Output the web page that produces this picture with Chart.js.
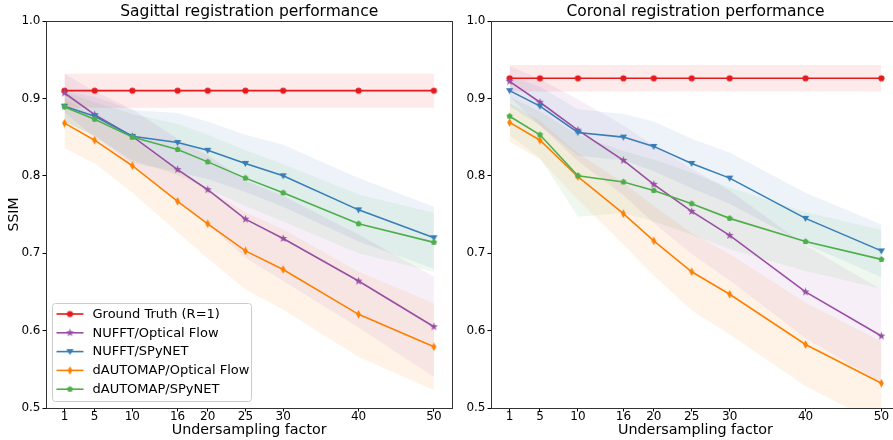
<!DOCTYPE html>
<html>
<head>
<meta charset="utf-8">
<script src="https://cdn.jsdelivr.net/npm/chart.js@4/dist/chart.umd.min.js"></script>
<style>
  html, body { margin: 0; padding: 0; background: #fff; overflow: hidden; }
  #wrap { position: relative; width: 893px; height: 440px; overflow: hidden; }
  #c1 { position: absolute; left: 0; top: 0; }
  #c2 { position: absolute; left: 458px; top: 0; }
</style>
</head>
<body>
<div id="wrap">
  <canvas id="c1" width="458" height="440"></canvas>
  <canvas id="c2" width="450" height="440"></canvas>
</div>
<script>
// undersampling factors (x axis) and the tick labels shown under it
const FACTORS = [1, 5, 10, 16, 20, 25, 30, 40, 50];
const X_TICKS = [1, 5, 10, 16, 20, 25, 30, 40, 50];
const Y_TICKS = [0.5, 0.6, 0.7, 0.8, 0.9, 1.0];

const SERIES_NAMES = ["Ground Truth (R=1)", "NUFFT/Optical Flow", "NUFFT/SPyNET",
                      "dAUTOMAP/Optical Flow", "dAUTOMAP/SPyNET"];

// sagittal — mean SSIM per factor, and the spread of the shaded band
const SAG_GT        = [0.910, 0.910, 0.910, 0.910, 0.910, 0.910, 0.910, 0.910, 0.910];
const SAG_NUFFT_OF  = [0.907, 0.879, 0.851, 0.808, 0.782, 0.744, 0.719, 0.664, 0.605];
const SAG_NUFFT_SPY = [0.890, 0.877, 0.851, 0.843, 0.833, 0.816, 0.800, 0.756, 0.720];
const SAG_DAUTO_OF  = [0.868, 0.846, 0.813, 0.767, 0.738, 0.703, 0.679, 0.621, 0.579];
const SAG_DAUTO_SPY = [0.889, 0.873, 0.850, 0.834, 0.818, 0.797, 0.778, 0.738, 0.714];

const SAG_GT_SD        = [0.022, 0.022, 0.022, 0.022, 0.022, 0.022, 0.022, 0.022, 0.022];
const SAG_NUFFT_OF_SD  = [0.025, 0.030, 0.035, 0.040, 0.045, 0.050, 0.055, 0.060, 0.065];
const SAG_NUFFT_SPY_SD = [0.020, 0.025, 0.034, 0.038, 0.037, 0.037, 0.040, 0.041, 0.040];
const SAG_DAUTO_OF_SD  = [0.032, 0.030, 0.035, 0.040, 0.045, 0.050, 0.052, 0.055, 0.056];
const SAG_DAUTO_SPY_SD = [0.020, 0.022, 0.030, 0.033, 0.035, 0.036, 0.037, 0.038, 0.038];

// coronal
const COR_GT        = [0.926, 0.926, 0.926, 0.926, 0.926, 0.926, 0.926, 0.926, 0.926];
const COR_NUFFT_OF  = [0.922, 0.895, 0.859, 0.820, 0.789, 0.754, 0.723, 0.650, 0.593];
const COR_NUFFT_SPY = [0.910, 0.890, 0.856, 0.850, 0.838, 0.816, 0.797, 0.745, 0.703];
const COR_DAUTO_OF  = [0.869, 0.846, 0.799, 0.751, 0.716, 0.676, 0.647, 0.582, 0.532];
const COR_DAUTO_SPY = [0.877, 0.853, 0.800, 0.792, 0.781, 0.764, 0.745, 0.715, 0.692];

const COR_GT_SD        = [0.017, 0.017, 0.017, 0.017, 0.017, 0.017, 0.017, 0.017, 0.017];
const COR_NUFFT_OF_SD  = [0.020, 0.030, 0.040, 0.045, 0.050, 0.055, 0.058, 0.060, 0.060];
const COR_NUFFT_SPY_SD = [0.020, 0.025, 0.030, 0.030, 0.032, 0.032, 0.033, 0.033, 0.034];
const COR_DAUTO_OF_SD  = [0.025, 0.025, 0.030, 0.040, 0.045, 0.050, 0.052, 0.054, 0.054];
const COR_DAUTO_SPY_SD = [0.025, 0.030, 0.053, 0.040, 0.040, 0.040, 0.040, 0.038, 0.038];

// Set1 palette, same order as the legend
const COLORS  = ["#e41a1c", "#984ea3", "#377eb8", "#ff7f00", "#4daf4a"];
const MARKERS = ["circle", "star", "tridown", "thindiamond", "pentagon"];
const FONT = "'DejaVu Sans', sans-serif";

function hexA(hex, a) {
  const n = parseInt(hex.slice(1), 16);
  return `rgba(${n >> 16},${(n >> 8) & 255},${n & 255},${a})`;
}

// small offscreen canvases for the matplotlib-style markers
function makeMarker(shape, color) {
  const size = 9, m = size / 2;
  const c = document.createElement("canvas");
  c.width = c.height = size;
  const g = c.getContext("2d");
  g.fillStyle = color;
  g.beginPath();
  if (shape === "circle") {
    g.arc(m, m, 3.1, 0, Math.PI * 2);
  } else if (shape === "star") {
    for (let k = 0; k < 10; k++) {
      const r = k % 2 ? 1.7 : 4.2;
      const a = -Math.PI / 2 + k * Math.PI / 5;
      g.lineTo(m + r * Math.cos(a), m + r * Math.sin(a));
    }
  } else if (shape === "tridown") {
    g.moveTo(m - 3.6, m - 2.4); g.lineTo(m + 3.6, m - 2.4); g.lineTo(m, m + 3.4);
  } else if (shape === "thindiamond") {
    g.moveTo(m, m - 4.2); g.lineTo(m + 2.4, m); g.lineTo(m, m + 4.2); g.lineTo(m - 2.4, m);
  } else if (shape === "pentagon") {
    for (let k = 0; k < 5; k++) {
      const a = -Math.PI / 2 + k * 2 * Math.PI / 5;
      g.lineTo(m + 3.2 * Math.cos(a), m + 3.2 * Math.sin(a));
    }
  }
  g.closePath();
  g.fill();
  return c;
}

function buildDatasets(means, sds) {
  const bands = [], lines = [];
  means.forEach((vals, i) => {
    const lo = FACTORS.map((x, j) => ({ x, y: vals[j] - sds[i][j] }));
    const hi = FACTORS.map((x, j) => ({ x, y: vals[j] + sds[i][j] }));
    bands.push({ data: lo, borderWidth: 0, pointRadius: 0, fill: false, order: 100 });
    bands.push({ data: hi, borderWidth: 0, pointRadius: 0, fill: "-1", order: 100,
                 backgroundColor: hexA(COLORS[i], 0.09) });
    lines.push({
      label: SERIES_NAMES[i],
      legendRow: i,
      data: FACTORS.map((x, j) => ({ x, y: vals[j] })),
      borderColor: COLORS[i],
      backgroundColor: COLORS[i],
      borderWidth: 1.6,
      pointStyle: makeMarker(MARKERS[i], COLORS[i]),
      pointRadius: 4,
      fill: false,
      tension: 0,
      order: 10 - i,
    });
  });
  return bands.concat(lines);
}

// axes frame (all four spines) and the title centred over the plot area
const framePlugin = {
  id: "frame",
  afterDraw(chart, args, opts) {
    const { ctx, chartArea: a } = chart;
    ctx.save();
    ctx.strokeStyle = "#333";
    ctx.lineWidth = 1;
    ctx.strokeRect(Math.round(a.left) + 0.5, Math.round(a.top) + 0.5,
                   Math.round(a.right - a.left), Math.round(a.bottom - a.top));
    ctx.fillStyle = "#000";
    ctx.font = "15.5px " + FONT;
    ctx.textAlign = "center";
    ctx.textBaseline = "middle";
    ctx.fillText(opts.title, (a.left + a.right) / 2, 12);
    ctx.restore();
  },
};

// legend drawn inside the plot, lower left
const insideLegend = {
  id: "insideLegend",
  afterDatasetsDraw(chart, args, opts) {
    if (!opts.show) return;
    const { ctx, chartArea: a } = chart;
    const items = chart.data.datasets.filter(d => d.legendRow !== undefined)
      .sort((p, q) => p.legendRow - q.legendRow);
    const w = 199, rowH = 18.8, h = 98;
    const x0 = a.left + 6.5, y0 = a.bottom - 6.5 - h;
    ctx.save();
    ctx.beginPath();
    ctx.roundRect(x0, y0, w, h, 3);
    ctx.fillStyle = "rgba(255,255,255,0.8)";
    ctx.fill();
    ctx.strokeStyle = "#cccccc";
    ctx.lineWidth = 1;
    ctx.stroke();
    ctx.font = "13px " + FONT;
    ctx.textBaseline = "middle";
    items.forEach((d, i) => {
      const cy = y0 + 10.5 + i * rowH;
      ctx.strokeStyle = d.borderColor;
      ctx.lineWidth = 1.6;
      ctx.beginPath();
      ctx.moveTo(x0 + 4, cy);
      ctx.lineTo(x0 + 31, cy);
      ctx.stroke();
      const img = d.pointStyle;
      ctx.drawImage(img, x0 + 17.5 - img.width / 2, cy - img.height / 2);
      ctx.fillStyle = "#000";
      ctx.fillText(d.label, x0 + 40, cy + 0.5);
    });
    ctx.restore();
  },
};

function makeChart(canvasId, title, datasets, yWidth, showYTitle, showLegend, padRight) {
  return new Chart(document.getElementById(canvasId), {
    type: "line",
    data: { datasets },
    plugins: [framePlugin, insideLegend],
    options: {
      responsive: false,
      animation: false,
      layout: { padding: { left: 0, right: padRight, top: 21, bottom: 0 } },
      plugins: {
        legend: { display: false },
        tooltip: { enabled: false },
        filler: { drawTime: "beforeDatasetsDraw" },
        insideLegend: { show: showLegend },
        frame: { title },
      },
      scales: {
        x: {
          type: "linear",
          min: -1.45,
          max: 52.45,
          afterBuildTicks: s => { s.ticks = X_TICKS.map(v => ({ value: v })); },
          afterFit: s => { s.height = 32; },
          ticks: { color: "#000", font: { family: FONT, size: 12 }, padding: -2,
                   autoSkip: false, maxRotation: 0 },
          grid: { drawOnChartArea: false, drawTicks: true, tickLength: 3.5, color: "#000" },
          border: { display: false },
          title: { display: true, text: "Undersampling factor", color: "#000",
                   font: { family: FONT, size: 14.3 }, padding: { top: 0, bottom: 1 } },
        },
        y: {
          min: 0.5,
          max: 1.0,
          afterBuildTicks: s => { s.ticks = Y_TICKS.map(v => ({ value: v })); },
          afterFit: s => { s.width = yWidth; },
          ticks: { color: "#000", font: { family: FONT, size: 12 }, padding: 2,
                   callback: v => v.toFixed(1) },
          grid: { drawOnChartArea: false, drawTicks: true, tickLength: 3.5, color: "#000" },
          border: { display: false },
          title: { display: showYTitle, text: "SSIM", color: "#000",
                   font: { family: FONT, size: 14 }, padding: { top: 6, bottom: 0 } },
        },
      },
    },
  });
}

makeChart("c1", "Sagittal registration performance",
  buildDatasets([SAG_GT, SAG_NUFFT_OF, SAG_NUFFT_SPY, SAG_DAUTO_OF, SAG_DAUTO_SPY],
                [SAG_GT_SD, SAG_NUFFT_OF_SD, SAG_NUFFT_SPY_SD, SAG_DAUTO_OF_SD, SAG_DAUTO_SPY_SD]),
  46, true, true, 3);

makeChart("c2", "Coronal registration performance",
  buildDatasets([COR_GT, COR_NUFFT_OF, COR_NUFFT_SPY, COR_DAUTO_OF, COR_DAUTO_SPY],
                [COR_GT_SD, COR_NUFFT_OF_SD, COR_NUFFT_SPY_SD, COR_DAUTO_OF_SD, COR_DAUTO_SPY_SD]),
  33, false, false, 8);
</script>
</body>
</html>
